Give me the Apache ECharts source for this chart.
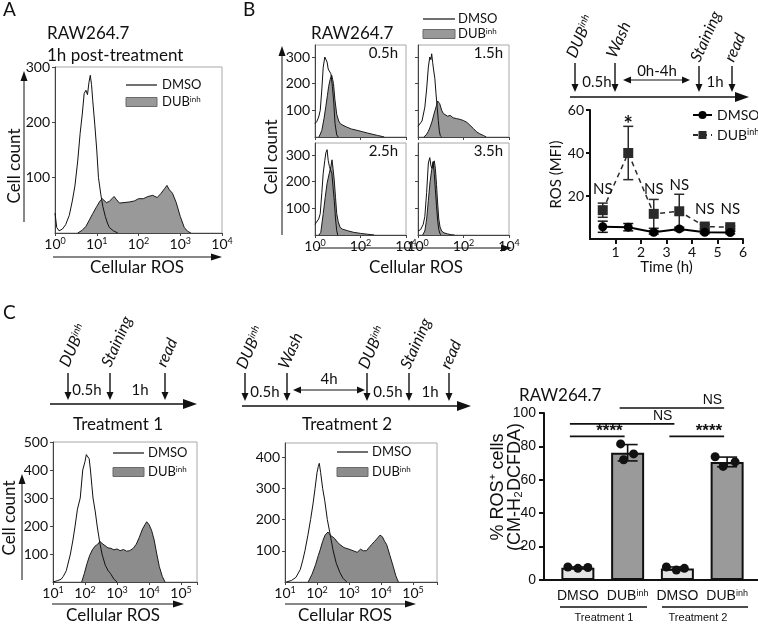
<!DOCTYPE html>
<html><head><meta charset="utf-8">
<script src="https://cdn.jsdelivr.net/npm/echarts@6/dist/echarts.min.js"></script>
<style>html,body{margin:0;padding:0;background:#fff}#c{width:758px;height:624px}</style>
</head><body><div id="c"></div>
<script>
// ================= DATA =================
// Panel A: histogram, RAW264.7 1h post-treatment (x = cellular ROS, y = cell count)
const aDmsoX = [1, 1.1, 1.25, 1.5, 1.8, 2.2, 2.6, 3, 3.5, 4, 4.5, 5, 5.5, 6, 6.5, 7, 7.5, 8, 9, 10, 11, 12.5, 14, 16, 18, 20, 25, 32];
const aDmsoY = [36, 10, 4, 7, 15, 32, 58, 85, 130, 180, 215, 252, 258, 250, 272, 285, 268, 240, 195, 150, 100, 70, 48, 30, 18, 10, 4, 0];
const aDubX = [3.5, 4.5, 5.5, 6.5, 8, 10, 12, 13.5, 15, 17, 20, 23, 26, 30, 35, 45, 60, 80, 100, 130, 170, 220, 280, 350, 420, 480, 550, 650, 800, 1000, 1250, 1500, 1800];
const aDubY = [0, 5, 12, 22, 35, 48, 58, 62, 60, 55, 57, 62, 66, 60, 54, 55, 56, 58, 62, 62, 66, 68, 64, 72, 80, 86, 78, 72, 55, 30, 10, 3, 0];

// Panel B: histograms at 0.5h, 1.5h, 2.5h, 3.5h
const b05DmsoX = [1, 1.2, 1.45, 1.7, 2, 2.3, 2.7, 3.1, 3.4, 3.8, 4.3, 5, 5.8, 6.6, 7.6, 9, 10.5];
const b05DmsoY = [50, 58, 75, 100, 180, 262, 300, 306, 281, 255, 250, 237, 190, 135, 50, 8, 0];
const b05DubX = [1.5, 2, 2.5, 3, 3.5, 4, 4.6, 5.4, 6, 6.5, 7.5, 9, 11, 13, 17, 25, 40, 70, 120, 200, 350, 550, 800, 1100];
const b05DubY = [0, 25, 70, 115, 155, 190, 215, 232, 215, 200, 140, 85, 60, 50, 44, 37, 30, 25, 20, 15, 10, 6, 3, 0];
const b15DmsoX = [1, 1.2, 1.5, 2, 2.4, 2.85, 3.3, 3.7, 4, 4.4, 4.8, 5.5, 6.2, 7, 7.8, 8.6, 9.5, 11];
const b15DmsoY = [40, 38, 60, 112, 180, 262, 300, 290, 312, 280, 255, 220, 162, 110, 62, 25, 5, 0];
const b15DubX = [1.8, 2.3, 2.8, 3.4, 4.2, 5, 5.6, 6.5, 7.3, 8, 9, 11, 13, 15, 20, 26, 35, 50, 70, 98, 140, 193, 270, 380, 520, 740, 1000];
const b15DubY = [0, 8, 20, 37, 60, 85, 100, 118, 135, 140, 125, 100, 88, 81, 78, 81, 72, 69, 66, 62, 55, 44, 32, 19, 12, 6, 0];
const b25DmsoX = [1, 1.2, 1.45, 1.7, 2, 2.3, 2.7, 3.0, 3.4, 3.8, 4.3, 5, 5.5, 6.2, 7, 8, 9, 10];
const b25DmsoY = [40, 45, 60, 80, 160, 232, 280, 308, 320, 280, 257, 240, 232, 180, 130, 60, 16, 0];
const b25DubX = [1.5, 1.8, 2.3, 2.8, 3.4, 4.2, 5, 5.6, 6.2, 7, 8, 9, 10.5, 12.6, 16, 27, 50, 100, 200, 400];
const b25DubY = [0, 10, 80, 140, 194, 230, 257, 282, 250, 206, 140, 80, 50, 29, 22, 16, 10, 6, 3, 0];
const b35DmsoX = [1, 1.3, 1.7, 2.0, 2.4, 2.85, 3.3, 3.7, 4.1, 4.6, 5.2, 5.8, 6.5, 7.3, 8.2, 9.3, 10.5];
const b35DmsoY = [15, 20, 40, 70, 160, 270, 290, 260, 250, 275, 230, 170, 110, 55, 20, 4, 0];
const b35DubX = [1.6, 2.0, 2.4, 2.85, 3.4, 4.0, 4.6, 5.2, 5.8, 6.5, 7.3, 8.2, 9.3, 11, 14, 20, 30, 40];
const b35DubY = [0, 15, 60, 130, 200, 245, 270, 278, 250, 190, 120, 60, 30, 15, 8, 4, 1, 0];
const bPanelLabels = ['0.5h', '1.5h', '2.5h', '3.5h'];

// Panel B: ROS (MFI) time course
const timeH = [0.5, 1.5, 2.5, 3.5, 4.5, 5.5];
const mfiDmso = [5.7, 5.5, 3.1, 4.7, 3.1, 3.0];
const mfiDmsoSd = [2.6, 1.7, 0.8, 0.8, 0.6, 0.6];
const mfiDub = [13.4, 40, 11.7, 12.9, 5.8, 5.5];
const mfiDubSd = [3.3, 12.4, 6.7, 7.9, 1.0, 0.6];
const mfiSigText = ['NS', '*', 'NS', 'NS', 'NS', 'NS'];
const mfiSigY = [23, 55, 23, 25, 13.7, 13.7];

// Panel C: histograms, Treatment 1 and Treatment 2
const t1DmsoX = [10, 14, 18, 21, 26, 35, 42, 49, 58, 71, 85, 100, 110, 120, 135, 148, 165, 178, 210, 240, 290, 340, 430, 530, 630, 800, 1000];
const t1DmsoY = [0, 5, 10, 20, 40, 100, 150, 200, 260, 300, 400, 430, 455, 460, 440, 400, 340, 300, 250, 200, 140, 100, 60, 40, 30, 10, 0];
const t1DubX = [79, 95, 115, 140, 170, 206, 250, 293, 340, 420, 520, 650, 800, 1000, 1250, 1600, 2000, 2500, 3200, 4000, 5000, 6300, 7500, 8500, 10000, 12000, 14500, 17500, 21000, 26000, 31600];
const t1DubY = [0, 30, 65, 95, 115, 128, 135, 145, 138, 130, 122, 120, 115, 118, 112, 116, 110, 112, 120, 135, 160, 190, 205, 215, 205, 185, 150, 100, 55, 20, 0];
const t2DmsoX = [11, 16, 22, 30, 36, 42, 52, 63, 75, 87, 100, 110, 118, 130, 150, 175, 210, 260, 320, 400, 520, 650, 850];
const t2DmsoY = [0, 5, 15, 40, 70, 100, 150, 200, 250, 300, 350, 370, 380, 350, 300, 260, 200, 150, 100, 60, 30, 12, 0];
const t2DubX = [53, 70, 90, 110, 123, 150, 178, 220, 260, 290, 350, 430, 520, 700, 1000, 1350, 1800, 2300, 2800, 3500, 4200, 5100, 6300, 7700, 9300, 11000, 13000, 15000, 19000, 24000, 29000, 35000];
const t2DubY = [0, 25, 55, 85, 100, 130, 150, 160, 150, 155, 140, 128, 120, 110, 105, 100, 95, 105, 100, 100, 110, 120, 130, 140, 150, 145, 130, 120, 85, 50, 20, 0];

// Panel C: % ROS+ cells bar chart
const barConds = ['DMSO', 'DUBinh', 'DMSO', 'DUBinh'];
const barGroups = ['Treatment 1', 'Treatment 1', 'Treatment 2', 'Treatment 2'];
const barMeans = [7.4, 76.2, 6.9, 70.7];
const barSd = [0.4, 4.9, 0.9, 2.9];
const barPoints = [[7.8, 7.0, 7.5], [81.5, 75.5, 72], [7.8, 6.0, 7.0], [73.8, 70.7, 68]];
const sigPairs = [[0, 1], [2, 3], [0, 2], [1, 3]];
const sigLevel = [86, 86, 93.5, 103];
const sigMark = ['****', '****', 'NS', 'NS'];

// ================= STYLE HELPERS =================
const F = 'Lato', FA = 'Liberation Sans', INK = '#111';
const pairs = (xs, ys) => xs.map((x, i) => [x, ys[i]]);
function supRichAxis(fs, ff) {
  return { b: { fontSize: fs, fontFamily: ff, color: INK },
           s: { fontSize: Math.round(fs * 0.62), fontFamily: ff, color: INK, verticalAlign: 'top' } };
}
function supRichG(fs, ff, italic) {
  const st = italic ? 'italic' : 'normal';
  return { b: { fontSize: fs, fontFamily: ff, fontStyle: st, fill: INK },
           s: { fontSize: Math.round(fs * 0.62), fontFamily: ff, fontStyle: st, fill: INK, verticalAlign: 'top' } };
}
function logFmt(v) {
  const e = Math.log10(v), r = Math.round(e);
  return Math.abs(e - r) < 1e-6 ? '{b|10}{s|' + r + '}' : '';
}
function xLog(g, min, max, base, show) {
  return { type: 'log', gridIndex: g, min: min, max: max, logBase: base,
    axisLine: { show: true, onZero: false, lineStyle: { color: '#444', width: 1 } },
    axisTick: { show: true, length: 3, lineStyle: { color: '#444' } },
    axisLabel: { show: show, margin: 4, formatter: logFmt, rich: supRichAxis(14, F) },
    splitLine: { show: false } };
}
function yCount(g, max, vals, show) {
  return { type: 'value', gridIndex: g, min: 0, max: max,
    axisLine: { show: true, lineStyle: { color: '#444', width: 1 } },
    axisTick: { show: true, length: 3, customValues: vals, lineStyle: { color: '#444' } },
    axisLabel: { show: show, margin: 5, fontSize: 14, fontFamily: F, color: INK, customValues: vals },
    splitLine: { show: false } };
}
function histDub(g, xs, ys, fill) {
  return { type: 'line', name: 'DUBinh hist ' + g, xAxisIndex: g, yAxisIndex: g, data: pairs(xs, ys),
    symbol: 'none', showSymbol: false, silent: true, z: 2,
    lineStyle: { color: '#1a1a1a', width: 1 }, areaStyle: { color: fill, opacity: 1 } };
}
function histDmso(g, xs, ys) {
  return { type: 'line', name: 'DMSO hist ' + g, xAxisIndex: g, yAxisIndex: g, data: pairs(xs, ys),
    symbol: 'none', showSymbol: false, silent: true, z: 3,
    lineStyle: { color: '#111', width: 1 } };
}

// ================= GRAPHIC (annotations) =================
const G = [];
function txt(x, y, text, o) {
  o = o || {};
  const fs = o.fs || 14, ff = o.ff || F, it = o.it ? 'italic' : 'normal', fw = o.fw || 'normal';
  G.push({ type: 'text', x: x, y: y, rotation: o.rot || 0, silent: true, z: 10,
    style: { text: text, fill: INK, fontSize: fs, fontFamily: ff, fontStyle: it, fontWeight: fw,
      align: o.al || 'left', verticalAlign: o.va || 'middle', rich: o.rich } });
}
function ln(x1, y1, x2, y2, w, c) {
  G.push({ type: 'line', silent: true, z: 10, shape: { x1: x1, y1: y1, x2: x2, y2: y2 },
    style: { stroke: c || INK, lineWidth: w || 1.2 } });
}
function tri(pts) { G.push({ type: 'polygon', silent: true, z: 10, shape: { points: pts }, style: { fill: INK } }); }
function arrowDown(x, y1, y2) { ln(x, y1, x, y2 - 6, 1.4); tri([[x - 3.5, y2 - 8], [x + 3.5, y2 - 8], [x, y2]]); }
function arrowRight(x1, x2, y, hl, hw, w) { ln(x1, y, x2 - hl + 1, y, w); tri([[x2 - hl, y - hw], [x2 - hl, y + hw], [x2, y]]); }
function arrowUp(x, y1, y2, hl, hw, w) { ln(x, y1, x, y2 + hl - 1, w); tri([[x - hw, y2 + hl], [x + hw, y2 + hl], [x, y2]]); }
function dblArrow(x1, x2, y) {
  ln(x1 + 7, y, x2 - 7, y, 1.2);
  tri([[x1, y], [x1 + 8, y - 3.5], [x1 + 8, y + 3.5]]);
  tri([[x2, y], [x2 - 8, y - 3.5], [x2 - 8, y + 3.5]]);
}
const DUB = '{b|DUB}{s|inh}';
const ROT = 66 * Math.PI / 180;
function stepLabel(x, y, text, isDub) {
  txt(x, y, isDub ? DUB : text, { it: true, fs: 16, rot: ROT, rich: isDub ? supRichG(16, F, true) : undefined });
}
function histLegend(xl, xr, yLine, yBox, tx, fill) {
  ln(xl, yLine, xr, yLine, 1.2);
  txt(tx, yLine, 'DMSO', { fs: 13 });
  G.push({ type: 'rect', silent: true, z: 10, shape: { x: xl, y: yBox - 4.5, width: xr - xl, height: 9 },
    style: { fill: fill, stroke: '#6a6a6a', lineWidth: 1 } });
  txt(tx, yBox, DUB, { fs: 13, rich: supRichG(13, F) });
}

// Panel letters & titles
txt(3, 10, 'A', { fs: 19 });
txt(243, 10, 'B', { fs: 19 });
txt(3, 313, 'C', { fs: 19 });
txt(47, 34, 'RAW264.7', { fs: 17 });
txt(47, 56, '1h post-treatment', { fs: 17 });
txt(311, 34, 'RAW264.7', { fs: 17 });
txt(519, 396, 'RAW264.7', { fs: 17 });

// Panel A axes arrows & names
arrowUp(24, 222, 71, 10, 3.5, 1);
arrowRight(53, 222, 257, 11, 3.5, 1);
txt(15, 166, 'Cell count', { fs: 17, rot: Math.PI / 2, al: 'center' });
txt(137, 268, 'Cellular ROS', { fs: 17, al: 'center' });
histLegend(126, 157, 85, 102, 162, '#999');

// Panel B histograms
arrowUp(282, 235, 46, 10, 3.5, 1);
arrowRight(318, 512, 248, 11, 3.5, 1);
txt(272, 157, 'Cell count', { fs: 17, rot: Math.PI / 2, al: 'center' });
txt(416, 268, 'Cellular ROS', { fs: 17, al: 'center' });
histLegend(423, 455, 19, 34, 458, '#999');
txt(398, 53, bPanelLabels[0], { fs: 15, al: 'right' });
txt(503, 53, bPanelLabels[1], { fs: 15, al: 'right' });
txt(398, 151, bPanelLabels[2], { fs: 15, al: 'right' });
txt(503, 151, bPanelLabels[3], { fs: 15, al: 'right' });

// Panel B timeline
arrowRight(570, 749, 97, 14, 5, 1.6);
arrowDown(575, 63, 92); arrowDown(615, 63, 92); arrowDown(699, 66, 92); arrowDown(732, 66, 92);
stepLabel(571, 57, '', true);
stepLabel(611, 57, 'Wash');
stepLabel(695, 61, 'Staining');
stepLabel(729, 61, 'read');
txt(597, 82, '0.5h', { fs: 15, al: 'center' });
dblArrow(623, 690, 80);
txt(657, 71, '0h-4h', { fs: 15, al: 'center' });
txt(715, 82, '1h', { fs: 15, al: 'center' });

// Panel C timeline 1
arrowRight(50, 197, 404, 14, 5, 1.6);
arrowDown(68, 373, 400); arrowDown(110, 373, 400); arrowDown(165, 373, 400);
stepLabel(64, 366, '', true);
stepLabel(106, 366, 'Staining');
stepLabel(161, 366, 'read');
txt(87, 390, '0.5h', { fs: 15, al: 'center' });
txt(140, 390, '1h', { fs: 15, al: 'center' });
txt(118, 425, 'Treatment 1', { fs: 17, al: 'center' });

// Panel C timeline 2
arrowRight(242, 471, 406, 14, 5, 1.6);
arrowDown(245, 373, 401); arrowDown(287, 373, 401); arrowDown(367, 373, 401); arrowDown(409, 373, 401); arrowDown(449, 373, 401);
stepLabel(241, 368, '', true);
stepLabel(283, 368, 'Wash');
stepLabel(363, 368, '', true);
stepLabel(405, 368, 'Staining');
stepLabel(445, 368, 'read');
txt(265, 392, '0.5h', { fs: 15, al: 'center' });
dblArrow(293, 365, 390);
txt(329, 379, '4h', { fs: 15, al: 'center' });
txt(388, 392, '0.5h', { fs: 15, al: 'center' });
txt(430, 392, '1h', { fs: 15, al: 'center' });
txt(347, 425, 'Treatment 2', { fs: 17, al: 'center' });

// Panel C histograms axes
arrowUp(22, 580, 474, 10, 3.5, 1);
arrowRight(52, 184, 604, 11, 3.5, 1);
arrowRight(285, 416, 604, 11, 3.5, 1);
txt(10, 518, 'Cell count', { fs: 17, rot: Math.PI / 2, al: 'center' });
txt(113, 616, 'Cellular ROS', { fs: 17, al: 'center' });
txt(345, 616, 'Cellular ROS', { fs: 17, al: 'center' });
histLegend(113, 144, 453, 472, 148, '#8c8c8c');
histLegend(337, 368, 452, 472, 372, '#8c8c8c');

// Bar chart extras: y-axis title, x-axis line across full width, treatment group lines
txt(498, 487, '% ROS\u207A cells', { fs: 18, ff: FA, rot: Math.PI / 2, al: 'center' });
txt(515, 487, '(CM-H\u2082DCFDA)', { fs: 18, ff: FA, rot: Math.PI / 2, al: 'center' });
ln(544, 580, 758, 580, 2, '#111');
ln(560, 607, 647, 607, 1.3); ln(662, 607, 748, 607, 1.3);
txt(604, 618, barGroups[0], { fs: 11, ff: FA, al: 'center' });
txt(698, 618, barGroups[2], { fs: 11, ff: FA, al: 'center' });

// ================= CHART =================
const gridBase = { outerBoundsMode: 'none', containLabel: false };
const grids = [
  { left: 55, top: 67, width: 167, height: 166, show: true, borderColor: '#a8a8a8', borderWidth: 1 },
  { left: 315, top: 45, width: 91, height: 92, show: true, borderColor: '#a8a8a8', borderWidth: 1 },
  { left: 418, top: 45, width: 91, height: 92, show: true, borderColor: '#a8a8a8', borderWidth: 1 },
  { left: 315, top: 143, width: 91, height: 92, show: true, borderColor: '#a8a8a8', borderWidth: 1 },
  { left: 418, top: 143, width: 91, height: 92, show: true, borderColor: '#a8a8a8', borderWidth: 1 },
  { left: 590, top: 110, width: 153, height: 129 },
  { left: 53, top: 442, width: 144, height: 140, show: true, borderColor: '#a8a8a8', borderWidth: 1 },
  { left: 285, top: 443, width: 152, height: 139, show: true, borderColor: '#a8a8a8', borderWidth: 1 },
  { left: 553, top: 413, width: 199, height: 167 }
].map(g => Object.assign({}, gridBase, g));

const xAxes = [
  xLog(0, 1, 10000, 10, true),
  xLog(1, 1, 10000, 100, false), xLog(2, 1, 10000, 100, false),
  xLog(3, 1, 10000, 100, true), xLog(4, 1, 10000, 100, true),
  { type: 'value', gridIndex: 5, min: 0, max: 6, interval: 1,
    name: 'Time (h)', nameLocation: 'middle', nameGap: 21,
    nameTextStyle: { fontSize: 15, fontFamily: F, color: INK },
    axisLine: { show: true, onZero: false, lineStyle: { color: '#111', width: 2 } },
    axisTick: { show: true, length: 5, lineStyle: { color: '#111', width: 2 } },
    axisLabel: { margin: 6, fontSize: 14, fontFamily: F, color: INK, showMinLabel: false },
    splitLine: { show: false } },
  xLog(6, 10, 316000, 10, true),
  xLog(7, 10, 562000, 10, true),
  { type: 'category', gridIndex: 8, data: barConds.map((c, i) => barGroups[i] + '|' + c),
    axisLine: { show: false }, axisTick: { show: false },
    axisLabel: { margin: 9, interval: 0,
      formatter: v => v.split('|')[1] === 'DUBinh' ? '{b|DUB}{s|inh}' : '{b|DMSO}',
      rich: supRichAxis(14, FA) } }
];
const yAxes = [
  yCount(0, 300, [100, 200, 300], true),
  yCount(1, 345, [100, 200, 300], true), yCount(2, 345, [100, 200, 300], false),
  yCount(3, 345, [100, 200, 300], true), yCount(4, 345, [100, 200, 300], false),
  { type: 'value', gridIndex: 5, min: 0, max: 60, interval: 20,
    name: 'ROS (MFI)', nameLocation: 'middle', nameGap: 26, nameRotate: 90,
    nameTextStyle: { fontSize: 15, fontFamily: F, color: INK },
    axisLine: { show: true, onZero: false, lineStyle: { color: '#111', width: 2 } },
    axisTick: { show: true, length: 4, lineStyle: { color: '#111', width: 2 } },
    axisLabel: { margin: 6, fontSize: 14, fontFamily: F, color: INK, showMinLabel: false },
    splitLine: { show: false } },
  yCount(6, 500, [100, 200, 300, 400, 500], true),
  yCount(7, 445, [100, 200, 300, 400], true),
  { type: 'value', gridIndex: 8, min: 0, max: 100, interval: 20, offset: 9,
    axisLine: { show: true, lineStyle: { color: '#111', width: 2 } },
    axisTick: { show: true, length: 5, lineStyle: { color: '#111', width: 2 } },
    axisLabel: { margin: 8, fontSize: 14, fontFamily: FA, color: INK },
    splitLine: { show: false } }
];

function errRender(cap, lw) {
  return function (params, api) {
    const x = api.value(0), m = api.value(1), e = api.value(2);
    const top = api.coord([x, m + e]), bot = api.coord([x, Math.max(m - e, 0)]);
    const st = { stroke: api.visual('color'), lineWidth: lw };
    return { type: 'group', children: [
      { type: 'line', shape: { x1: top[0], y1: top[1], x2: bot[0], y2: bot[1] }, style: st },
      { type: 'line', shape: { x1: top[0] - cap, y1: top[1], x2: top[0] + cap, y2: top[1] }, style: st },
      { type: 'line', shape: { x1: bot[0] - cap, y1: bot[1], x2: bot[0] + cap, y2: bot[1] }, style: st } ] };
  };
}
const dotJitter = [[-10, 0, 10], [-7, 6, -4], [-11, -1, 7], [-12, 8, -4]];

const series = [
  histDub(0, aDubX, aDubY, '#999'), histDmso(0, aDmsoX, aDmsoY),
  histDub(1, b05DubX, b05DubY, '#999'), histDmso(1, b05DmsoX, b05DmsoY),
  histDub(2, b15DubX, b15DubY, '#999'), histDmso(2, b15DmsoX, b15DmsoY),
  histDub(3, b25DubX, b25DubY, '#999'), histDmso(3, b25DmsoX, b25DmsoY),
  histDub(4, b35DubX, b35DubY, '#999'), histDmso(4, b35DmsoX, b35DmsoY),
  histDub(6, t1DubX, t1DubY, '#8c8c8c'), histDmso(6, t1DmsoX, t1DmsoY),
  histDub(7, t2DubX, t2DubY, '#8c8c8c'), histDmso(7, t2DmsoX, t2DmsoY),
  // MFI time course
  { type: 'custom', name: 'DUBinh err', xAxisIndex: 5, yAxisIndex: 5, silent: true, clip: false,
    itemStyle: { color: '#2a2a2a' }, renderItem: errRender(5, 1.5), encode: { x: 0, y: 1 },
    data: timeH.map((t, i) => [t, mfiDub[i], mfiDubSd[i]]) },
  { type: 'custom', name: 'DMSO err', xAxisIndex: 5, yAxisIndex: 5, silent: true, clip: false,
    itemStyle: { color: '#111' }, renderItem: errRender(5, 1.5), encode: { x: 0, y: 1 },
    data: timeH.map((t, i) => [t, mfiDmso[i], mfiDmsoSd[i]]) },
  { type: 'line', name: 'DUBinh', xAxisIndex: 5, yAxisIndex: 5, data: pairs(timeH, mfiDub),
    symbol: 'rect', symbolSize: 10, itemStyle: { color: '#2a2a2a', opacity: 1 },
    lineStyle: { color: '#2a2a2a', width: 1.5, type: [5, 4] } },
  { type: 'line', name: 'DMSO', xAxisIndex: 5, yAxisIndex: 5, data: pairs(timeH, mfiDmso),
    symbol: 'circle', symbolSize: 9, itemStyle: { color: '#000', opacity: 1 },
    lineStyle: { color: '#000', width: 2 } },
  { type: 'custom', name: 'sig', xAxisIndex: 5, yAxisIndex: 5, silent: true, clip: false, z: 6,
    encode: { x: 0, y: 1 },
    data: timeH.map((t, i) => [t, mfiSigY[i], i]),
    renderItem: function (params, api) {
      const p = api.coord([api.value(0), api.value(1)]);
      const s = mfiSigText[api.value(2)];
      const star = s === '*';
      return { type: 'text', x: p[0], y: star ? p[1] + 4 : p[1],
        style: { text: s, fill: INK, fontSize: star ? 22 : 15, fontWeight: star ? 'bold' : 'normal',
          fontFamily: F, align: 'center', verticalAlign: 'middle' } };
    } },
  // Bar chart
  { type: 'bar', name: 'ROS+ cells', xAxisIndex: 8, yAxisIndex: 8, barWidth: 33, silent: true,
    data: barMeans.map((v, i) => ({ value: v,
      itemStyle: { color: barConds[i] === 'DMSO' ? '#e4e4e4' : '#9a9a9a', borderColor: '#111', borderWidth: 2 } })) },
  { type: 'custom', name: 'bar err', xAxisIndex: 8, yAxisIndex: 8, silent: true, clip: false, z: 4,
    itemStyle: { color: '#111' }, renderItem: errRender(10, 1.6), encode: { x: 0, y: 1 },
    data: barMeans.map((m, i) => [i, m, barSd[i]]) },
  { type: 'custom', name: 'bar points', xAxisIndex: 8, yAxisIndex: 8, silent: true, clip: false, z: 5,
    encode: { x: 0, y: 1 },
    data: barPoints.flatMap((pts, i) => pts.map((v, k) => [i, v, k])),
    renderItem: function (params, api) {
      const ci = api.value(0), p = api.coord([ci, api.value(1)]);
      return { type: 'circle', shape: { cx: p[0] + dotJitter[ci][api.value(2)], cy: p[1], r: 4.5 }, style: { fill: '#111' } };
    } },
  { type: 'custom', name: 'brackets', xAxisIndex: 8, yAxisIndex: 8, silent: true, clip: false, z: 5,
    encode: { x: [0, 1], y: 2 },
    data: sigPairs.map((p, i) => [p[0], p[1], sigLevel[i], i]),
    renderItem: function (params, api) {
      const a = api.coord([api.value(0), api.value(2)]), b = api.coord([api.value(1), api.value(2)]);
      const x1 = a[0] - 8, x2 = b[0] - 3;
      const mark = sigMark[api.value(3)], stars = mark.charAt(0) === '*';
      return { type: 'group', children: [
        { type: 'line', shape: { x1: x1, y1: a[1], x2: x2, y2: a[1] }, style: { stroke: '#111', lineWidth: 1.6 } },
        { type: 'text', x: x2 - 2, y: stars ? a[1] + 3 : a[1] - 1, style: { text: mark, fill: '#111',
          fontSize: stars ? 17 : 14, fontWeight: stars ? 'bold' : 'normal', fontFamily: FA,
          align: 'right', verticalAlign: 'bottom' } } ] };
    } }
];

const chart = echarts.init(document.getElementById('c'), null, { renderer: 'canvas' });
chart.setOption({
  animation: false,
  backgroundColor: '#fff',
  grid: grids,
  xAxis: xAxes,
  yAxis: yAxes,
  legend: { data: ['DMSO', 'DUBinh'], left: 692, top: 108, orient: 'vertical', itemWidth: 19, itemHeight: 10,
    itemGap: 6, padding: 0, selectedMode: false, width: 200,
    textStyle: { fontSize: 14, fontFamily: F, color: INK, rich: supRichAxis(14, F), overflow: 'none' },
    formatter: n => n === 'DUBinh' ? '{b|DUB}{s|inh}' : '{b|DMSO}' },
  tooltip: { show: false },
  series: series,
  graphic: G
});
</script></body></html>
